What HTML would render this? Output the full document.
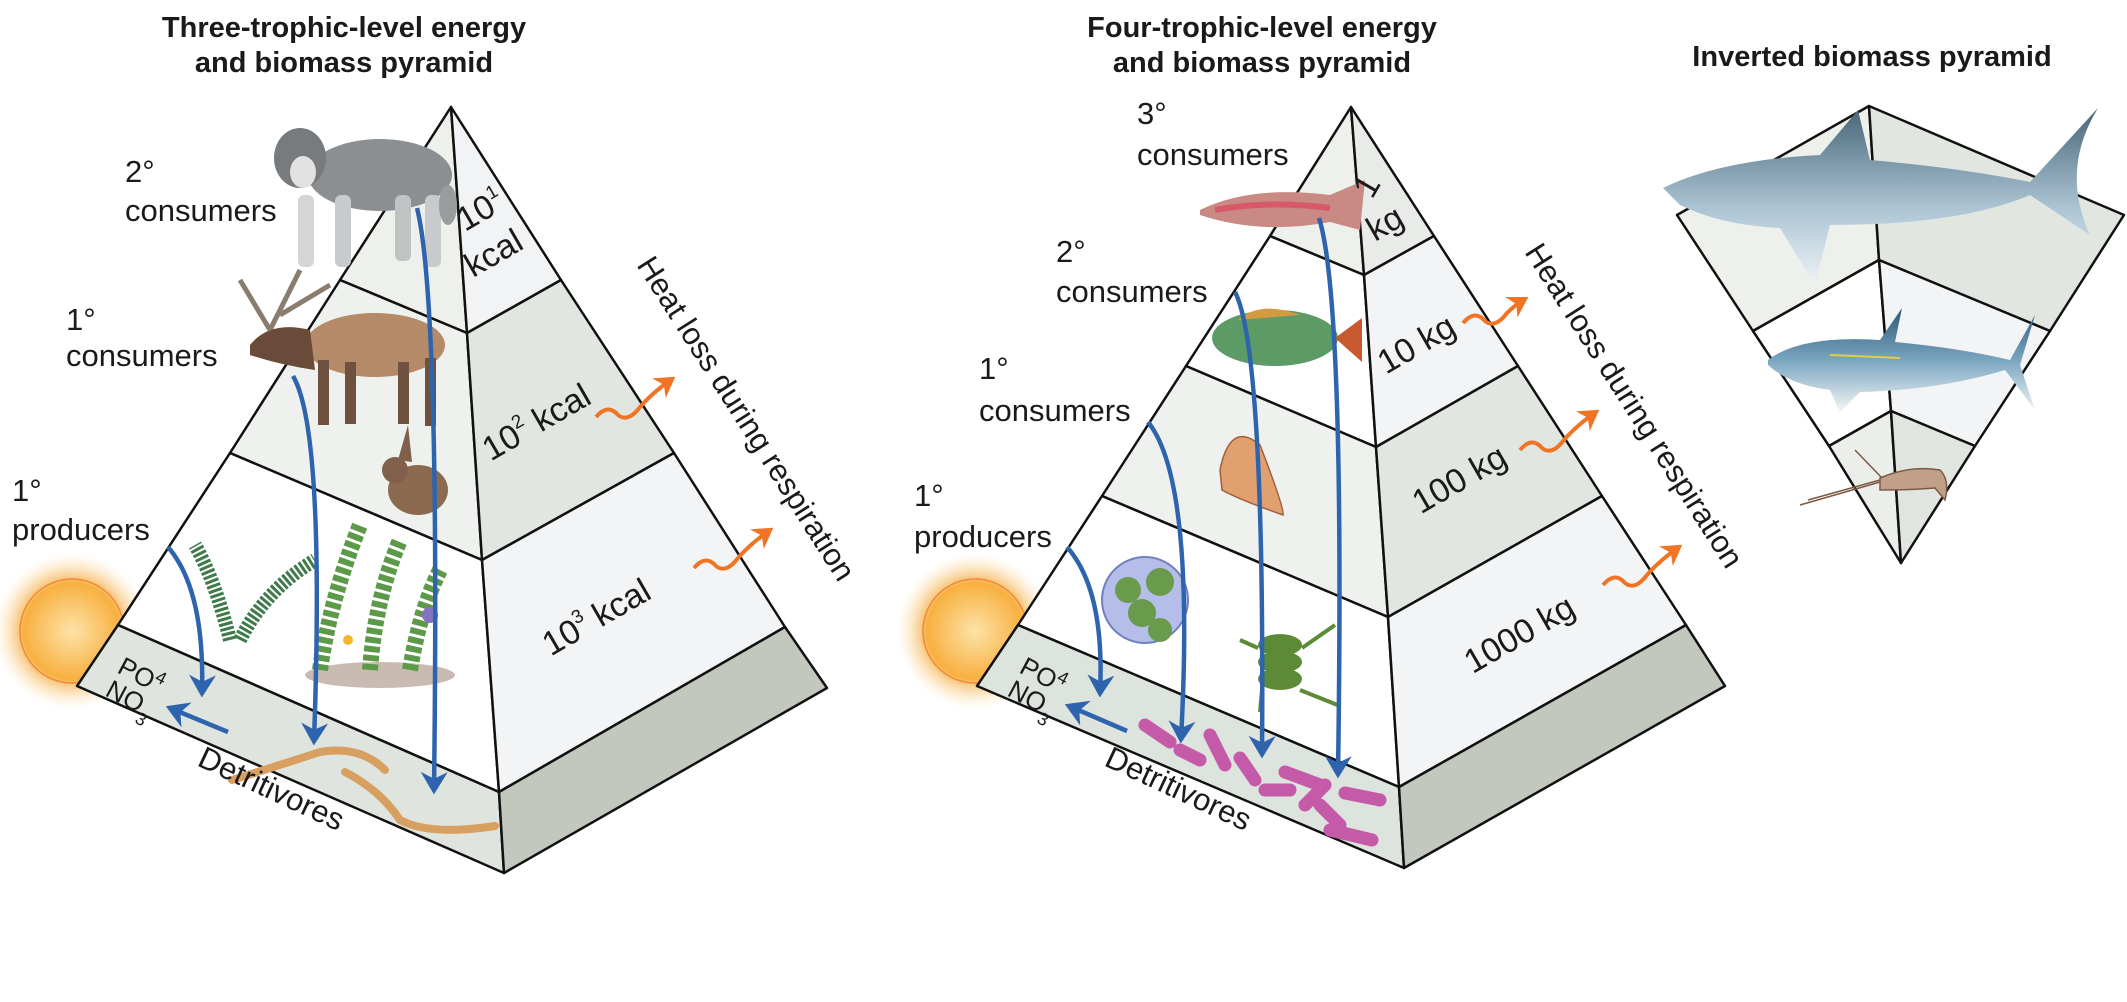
<!DOCTYPE html>
<html><head><meta charset="utf-8"><style>
html,body{margin:0;padding:0;background:#fff;}
svg{display:block;}
text{font-family:"Liberation Sans",Arial,sans-serif;fill:#1a1a1a;}
.t{font-size:29px;font-weight:bold;text-anchor:middle;}
.l{font-size:31px;}
.p{font-size:34px;}
.e{stroke:#111;stroke-width:2.5;stroke-linejoin:round;}
.b{fill:none;stroke:#2e64ad;stroke-width:4.5;marker-end:url(#ah);}
.o{fill:none;stroke:#f07424;stroke-width:4;marker-end:url(#oh);}
</style></head><body>
<svg width="2127" height="1002" viewBox="0 0 2127 1002">
<defs>
<marker id="ah" markerWidth="6" markerHeight="6" refX="4" refY="3" orient="auto" markerUnits="strokeWidth"><path d="M0,0 L5,3 L0,6 L1.5,3 z" fill="#2e64ad"/></marker>
<marker id="oh" markerWidth="6" markerHeight="6" refX="4" refY="3" orient="auto" markerUnits="strokeWidth"><path d="M0,0 L5,3 L0,6 L1.5,3 z" fill="#f07424"/></marker>
<radialGradient id="sun" cx="0.5" cy="0.5" r="0.5"><stop offset="0" stop-color="#fde3a8"/><stop offset="0.62" stop-color="#f8b040"/><stop offset="0.7" stop-color="#f7c070" stop-opacity="0.8"/><stop offset="1" stop-color="#fde7c0" stop-opacity="0"/></radialGradient>
<linearGradient id="shark" x1="0" y1="0" x2="0" y2="1"><stop offset="0" stop-color="#466577"/><stop offset="0.55" stop-color="#a9c2d2"/><stop offset="1" stop-color="#eef3f6"/></linearGradient>
<linearGradient id="tuna" x1="0" y1="0" x2="0" y2="1"><stop offset="0" stop-color="#2b5878"/><stop offset="0.5" stop-color="#7aa5c0"/><stop offset="1" stop-color="#f4f6f6"/></linearGradient>
</defs>

<text class="t" x="344" y="37">Three-trophic-level energy</text>
<text class="t" x="344" y="72">and biomass pyramid</text>
<text class="t" x="1262" y="37">Four-trophic-level energy</text>
<text class="t" x="1262" y="72">and biomass pyramid</text>
<text class="t" x="1872" y="66">Inverted biomass pyramid</text>

<circle cx="72" cy="631" r="78" fill="url(#sun)"/>
<circle cx="72" cy="631" r="52" fill="none" stroke="#f08a3a" stroke-width="1.5"/>
<circle cx="975" cy="631" r="78" fill="url(#sun)"/>
<circle cx="975" cy="631" r="52" fill="none" stroke="#f08a3a" stroke-width="1.5"/>

<g class="e">
<polygon points="451,107 340,280 467,333" fill="#eef0ec"/>
<polygon points="451,107 467,333 561,280" fill="#f2f3f4"/>
<polygon points="340,280 230,453 482,560 467,333" fill="#eef1ee"/>
<polygon points="467,333 482,560 674,453 561,280" fill="#e1e6e1"/>
<polygon points="230,453 118,625 499,792 482,560" fill="#ffffff"/>
<polygon points="482,560 499,792 785,627 674,453" fill="#f3f4f5"/>
<polygon points="118,625 77,686 504,873 499,792" fill="#dfe4df"/>
<polygon points="499,792 504,873 827,688 785,627" fill="#c3c8bf"/>
</g>

<g>
<ellipse cx="380" cy="175" rx="72" ry="36" fill="#8c8f91"/>
<ellipse cx="300" cy="158" rx="26" ry="30" fill="#777b7d"/>
<ellipse cx="303" cy="172" rx="13" ry="16" fill="#e2e2e2"/>
<rect x="298" y="195" width="16" height="72" rx="6" fill="#d4d6d6"/>
<rect x="335" y="195" width="16" height="72" rx="6" fill="#c8cacb"/>
<rect x="395" y="195" width="16" height="66" rx="6" fill="#c0c2c3"/>
<rect x="425" y="195" width="16" height="72" rx="6" fill="#c8cacb"/>
<ellipse cx="448" cy="205" rx="9" ry="20" fill="#9a9d9e"/>
</g>
<g>
<path d="M270,330 L240,280 M270,330 L300,270 M280,315 L330,285" stroke="#8a7d70" stroke-width="5" fill="none"/>
<ellipse cx="375" cy="345" rx="70" ry="32" fill="#b48a68"/>
<path d="M250,345 Q270,320 310,330 L315,370 Q280,365 250,355z" fill="#6a4a38"/>
<rect x="318" y="360" width="11" height="65" fill="#6f5140"/><rect x="345" y="362" width="11" height="62" fill="#6f5140"/>
<rect x="398" y="362" width="11" height="62" fill="#6f5140"/><rect x="425" y="358" width="11" height="68" fill="#6f5140"/>
</g>
<g>
<ellipse cx="418" cy="490" rx="30" ry="25" fill="#8b6a50"/>
<ellipse cx="395" cy="470" rx="13" ry="13" fill="#80604a"/>
<path d="M398,460 L408,425 L412,462z" fill="#80604a"/>
</g>
<g>
<path d="M230,640 Q215,580 195,545 M240,640 Q265,590 315,560" stroke="#3f7b4a" stroke-width="14" fill="none" stroke-dasharray="3,2"/>
</g>
<g>
<ellipse cx="380" cy="675" rx="75" ry="13" fill="#b39e92" opacity="0.7"/>
<path d="M320,670 Q330,600 360,525 M370,670 Q375,600 400,540 M410,670 Q420,610 440,570" stroke="#5c9a4a" stroke-width="16" fill="none" stroke-dasharray="6,3"/>
<circle cx="430" cy="615" r="8" fill="#8272c0"/><circle cx="348" cy="640" r="5" fill="#f2b62c"/>
</g>
<g>
<path d="M232,780 Q280,765 320,752 Q360,745 385,770" stroke="#d8a060" stroke-width="8" fill="none" stroke-linecap="round"/>
<path d="M345,772 Q380,790 400,820 Q430,836 495,826" stroke="#d8a060" stroke-width="8" fill="none" stroke-linecap="round"/>
</g>

<path class="b" d="M168,547 Q205,590 202,693"/>
<path class="b" d="M293,376 Q325,430 314,741"/>
<path class="b" d="M417,208 Q440,300 434,790"/>
<path class="b" d="M228,732 L170,708"/>
<path class="o" d="M596,417 q12,-14 22,-2 q10,8 22,-8 q12,-14 32,-28"/>
<path class="o" d="M694,568 q12,-14 22,-2 q10,8 22,-8 q12,-14 32,-28"/>

<g class="l">
<text x="125" y="182">2°</text><text x="125" y="221">consumers</text>
<text x="66" y="330">1°</text><text x="66" y="366">consumers</text>
<text x="12" y="501">1°</text><text x="12" y="540">producers</text>
<text class="p" transform="translate(465,232) rotate(-30)">10<tspan font-size="19" dy="-15">1</tspan></text>
<text class="p" transform="translate(473,278) rotate(-30)">kcal</text>
<text class="p" transform="translate(542,432) rotate(-30)" text-anchor="middle">10<tspan font-size="19" dy="-15">2</tspan><tspan dy="15"> kcal</tspan></text>
<text class="p" transform="translate(602,627) rotate(-30)" text-anchor="middle">10<tspan font-size="19" dy="-15">3</tspan><tspan dy="15"> kcal</tspan></text>
<text transform="translate(116,672) rotate(28)" font-size="26">PO<tspan font-size="18" dy="-10">4</tspan></text>
<text transform="translate(104,695) rotate(28)" font-size="26">NO<tspan font-size="18" dy="10">3</tspan></text>
<text transform="translate(196,765) rotate(25)">Detritivores</text>
<text transform="translate(636,265) rotate(57.5)">Heat loss during respiration</text>
</g>

<g class="e">
<polygon points="1351,107 1270,236 1364,275" fill="#eef0ec"/>
<polygon points="1351,107 1364,275 1434,236" fill="#e8ebe7"/>
<polygon points="1270,236 1186,366 1376,447 1364,275" fill="#ffffff"/>
<polygon points="1364,275 1376,447 1518,366 1434,236" fill="#f3f4f5"/>
<polygon points="1186,366 1102,496 1388,617 1376,447" fill="#eef1ee"/>
<polygon points="1376,447 1388,617 1602,496 1518,366" fill="#e1e6e1"/>
<polygon points="1102,496 1018,625 1399,787 1388,617" fill="#ffffff"/>
<polygon points="1388,617 1399,787 1686,625 1602,496" fill="#f3f4f5"/>
<polygon points="1018,625 977,686 1404,868 1399,787" fill="#dde3dd"/>
<polygon points="1399,787 1404,868 1725,686 1686,625" fill="#c3c8bf"/>
</g>

<g>
<path d="M1200,210 Q1250,185 1330,195 L1365,180 L1360,230 L1330,222 Q1260,235 1200,215z" fill="#c98a84"/>
<path d="M1215,210 Q1270,200 1330,208" stroke="#d85a6a" stroke-width="6" fill="none"/>
</g>
<g>
<ellipse cx="1275" cy="338" rx="63" ry="28" fill="#5c9a66"/>
<path d="M1238,320 Q1260,300 1300,315z" fill="#d49a40"/>
<path d="M1335,338 L1362,318 L1362,362z" fill="#c8582e"/>
</g>
<g>
<path d="M1220,470 Q1230,420 1260,445 Q1285,510 1283,515 Q1240,500 1222,490z" fill="#e0a070" stroke="#a0603a" stroke-width="1.5"/>
</g>
<g>
<circle cx="1145" cy="600" r="43" fill="#b4bee8" stroke="#7080c0" stroke-width="2"/>
<circle cx="1128" cy="590" r="13" fill="#6a9a4c"/><circle cx="1160" cy="582" r="14" fill="#6a9a4c"/>
<circle cx="1142" cy="613" r="14" fill="#6a9a4c"/><circle cx="1160" cy="630" r="12" fill="#6a9a4c"/>
</g>
<g>
<ellipse cx="1280" cy="645" rx="22" ry="11" fill="#5d8a36"/>
<ellipse cx="1280" cy="662" rx="22" ry="11" fill="#5d8a36"/>
<ellipse cx="1280" cy="679" rx="22" ry="11" fill="#5d8a36"/>
<path d="M1240,640 L1258,648 M1302,648 L1335,625 M1262,690 L1260,712 M1300,690 L1340,706" stroke="#5d8a36" stroke-width="4"/>
</g>
<g stroke="#c45aa8" stroke-width="13" stroke-linecap="round">
<line x1="1145" y1="725" x2="1170" y2="742"/><line x1="1180" y1="750" x2="1200" y2="760"/>
<line x1="1210" y1="735" x2="1225" y2="765"/><line x1="1240" y1="758" x2="1255" y2="780"/>
<line x1="1265" y1="790" x2="1290" y2="790"/><line x1="1285" y1="772" x2="1320" y2="785"/>
<line x1="1305" y1="805" x2="1325" y2="785"/><line x1="1320" y1="805" x2="1340" y2="825"/>
<line x1="1345" y1="793" x2="1380" y2="800"/><line x1="1330" y1="830" x2="1372" y2="840"/>
</g>

<path class="b" d="M1067,547 Q1105,590 1100,693"/>
<path class="b" d="M1148,422 Q1195,480 1181,739"/>
<path class="b" d="M1235,292 Q1265,350 1262,754"/>
<path class="b" d="M1319,218 Q1345,300 1338,774"/>
<path class="b" d="M1127,731 L1069,706"/>
<path class="o" d="M1463,323 q12,-14 22,-2 q10,8 22,-8 q8,-8 18,-14"/>
<path class="o" d="M1520,450 q12,-14 22,-2 q10,8 22,-8 q12,-14 32,-28"/>
<path class="o" d="M1603,585 q12,-14 22,-2 q10,8 22,-8 q12,-14 32,-28"/>

<g class="l">
<text x="1137" y="124">3°</text><text x="1137" y="165">consumers</text>
<text x="1056" y="262">2°</text><text x="1056" y="302">consumers</text>
<text x="979" y="379">1°</text><text x="979" y="421">consumers</text>
<text x="914" y="506">1°</text><text x="914" y="547">producers</text>
<text class="p" transform="translate(1372,200) rotate(-60)">1</text>
<text class="p" transform="translate(1375,242) rotate(-30)">kg</text>
<text class="p" transform="translate(1422,354) rotate(-30)" text-anchor="middle">10 kg</text>
<text class="p" transform="translate(1465,489) rotate(-30)" text-anchor="middle">100 kg</text>
<text class="p" transform="translate(1525,644) rotate(-30)" text-anchor="middle">1000 kg</text>
<text transform="translate(1018,672) rotate(28)" font-size="26">PO<tspan font-size="18" dy="-10">4</tspan></text>
<text transform="translate(1006,695) rotate(28)" font-size="26">NO<tspan font-size="18" dy="10">3</tspan></text>
<text transform="translate(1103,765) rotate(25)">Detritivores</text>
<text transform="translate(1524,252) rotate(57.5)">Heat loss during respiration</text>
</g>

<g class="e">
<polygon points="1869,106 1677,215 1753,331 1879,260" fill="#eef0ec"/>
<polygon points="1869,106 1879,260 2050,331 2124,215" fill="#e1e6e1"/>
<polygon points="1753,331 1829,446 1891,411 1879,260" fill="#ffffff"/>
<polygon points="1879,260 1891,411 1975,446 2050,331" fill="#f3f4f5"/>
<polygon points="1829,446 1901,563 1891,411" fill="#eceeea"/>
<polygon points="1891,411 1901,563 1975,446" fill="#e1e5e0"/>
</g>
<g>
<path d="M1663,188 Q1720,160 1820,155 L1858,110 L1870,160 Q1960,168 2030,182 L2098,108 Q2060,170 2090,235 L2030,195 Q1960,225 1830,225 L1815,285 L1780,228 Q1720,225 1680,205z" fill="url(#shark)"/>
</g>
<g>
<path d="M1768,360 Q1800,335 1880,340 L1902,308 L1895,342 Q1960,348 2010,360 L2035,315 L2020,365 L2035,410 L2005,370 Q1940,390 1860,392 L1840,412 L1830,390 Q1790,385 1768,365z" fill="url(#tuna)"/>
<path d="M1830,355 L1900,358" stroke="#e0d040" stroke-width="2"/>
</g>
<g>
<path d="M1880,478 Q1910,465 1940,470 Q1950,480 1945,500 L1935,488 Q1910,490 1880,490z" fill="#c0a088" stroke="#7a5a45" stroke-width="1.5"/>
<path d="M1880,482 L1800,505 M1880,480 L1808,500 M1882,478 L1855,450" stroke="#7a5a45" stroke-width="1.5" fill="none"/>
</g>
</svg>
</body></html>
